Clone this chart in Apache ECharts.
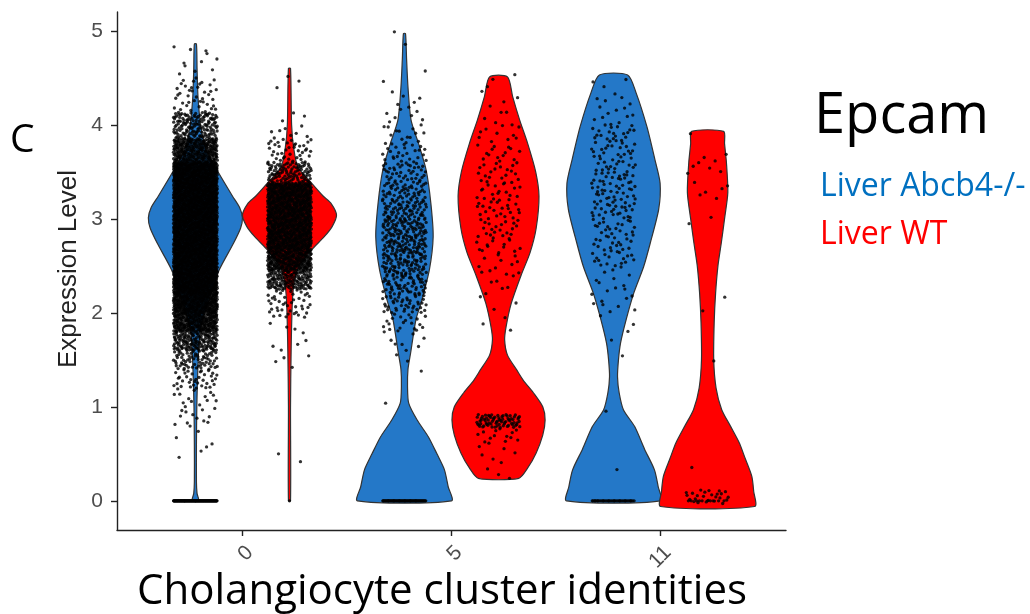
<!DOCTYPE html>
<html>
<head>
<meta charset="utf-8">
<script src="https://cdn.jsdelivr.net/npm/echarts@6/dist/echarts.min.js"></script>
<style>
html,body{margin:0;padding:0;background:#fff;}
#chart{width:1030px;height:614px;}
</style>
</head>
<body>
<div id="chart"></div>
<script>
// ---------- data ----------
const clusters = ['0', '5', '11'];
const groupNames = ['Liver Abcb4-/-', 'Liver WT'];
const groupFill = ['#2478C8', '#FF0000'];
const legendColors = ['#0070C0', '#FF0000'];
const yTickValues = [0, 1, 2, 3, 4, 5];
const xTickValues = [1, 2, 3];

// violin outlines: [expression level, relative width (1 = widest)]
const vln0KO = [[0,0.07],[0.08,0.035],[0.2,0.022],[0.6,0.022],[1.0,0.03],[1.5,0.06],[1.8,0.1],[2.0,0.2],[2.2,0.33],[2.46,0.51],[2.74,0.81],[2.9,0.96],[3.01,1.0],[3.12,0.94],[3.24,0.79],[3.5,0.48],[3.7,0.26],[3.8,0.19],[4.0,0.11],[4.3,0.055],[4.6,0.035],[4.86,0.022]];
const vln0WT = [[0,0.022],[1.0,0.022],[1.6,0.035],[2.1,0.06],[2.32,0.1],[2.49,0.2],[2.67,0.47],[2.81,0.74],[2.92,0.91],[3.04,1.0],[3.16,0.89],[3.24,0.72],[3.38,0.47],[3.55,0.18],[3.75,0.09],[4.0,0.045],[4.6,0.022]];
const vln5KO = [[0,1.0],[0.15,0.93],[0.33,0.85],[0.5,0.69],[0.68,0.51],[0.86,0.27],[1.04,0.09],[1.22,0.065],[1.4,0.075],[1.57,0.13],[1.93,0.245],[2.1,0.35],[2.46,0.53],[2.81,0.61],[3.17,0.56],[3.52,0.46],[3.8,0.3],[4.05,0.14],[4.4,0.075],[4.7,0.045],[4.97,0.022]];
const vln5WT = [[0.24,0.43],[0.35,0.62],[0.51,0.8],[0.7,0.94],[0.86,0.99],[1.0,0.94],[1.15,0.74],[1.28,0.53],[1.39,0.39],[1.55,0.19],[1.71,0.13],[1.85,0.16],[2.1,0.27],[2.4,0.48],[2.64,0.67],[2.9,0.8],[3.24,0.86],[3.5,0.79],[3.8,0.62],[4.05,0.45],[4.3,0.3],[4.51,0.19]];
const vln11KO = [[0,1.0],[0.15,0.95],[0.33,0.87],[0.55,0.66],[0.79,0.45],[0.97,0.21],[1.15,0.12],[1.32,0.085],[1.5,0.105],[1.68,0.15],[1.93,0.27],[2.21,0.43],[2.49,0.64],[2.74,0.78],[3.1,0.96],[3.38,0.99],[3.63,0.88],[3.98,0.71],[4.34,0.48],[4.53,0.3]];
const vln11WT = [[-0.06,1.0],[0.1,0.98],[0.26,0.94],[0.45,0.8],[0.62,0.67],[0.8,0.48],[0.97,0.3],[1.2,0.18],[1.5,0.13],[1.9,0.14],[2.21,0.17],[2.5,0.22],[2.74,0.29],[3.0,0.36],[3.28,0.43],[3.6,0.4],[3.8,0.36],[3.93,0.34]];

// cells (jittered points): [low level, high level, number of cells] counted from the picture
const dots0KO = [[0,0,130],[0.4,0.6,3],[0.6,0.8,4],[0.8,1.0,12],[1.0,1.2,15],[1.2,1.4,35],[1.4,1.6,70],[1.6,1.8,150],[1.8,2.0,280],[2.0,2.2,350],[2.2,3.6,3000],[3.6,3.85,300],[3.85,4.13,150],[4.13,4.48,40],[4.48,4.87,12]];
const dots0WT = [[0,0,1],[0.4,0.55,2],[1.4,1.95,12],[1.95,2.25,45],[2.25,2.45,150],[2.45,2.67,300],[2.67,3.38,1100],[3.38,3.6,110],[3.6,3.85,40],[3.85,4.0,8],[4.0,4.15,3],[4.3,4.4,1],[4.45,4.6,2]];
const dots5KO = [[0,0,70],[1.0,1.4,2],[1.4,1.6,2],[1.6,1.8,8],[1.8,2.0,20],[2.0,2.2,45],[2.2,2.4,60],[2.4,2.6,75],[2.6,2.8,85],[2.8,3.0,85],[3.0,3.2,70],[3.2,3.4,55],[3.4,3.6,40],[3.6,3.8,25],[3.8,4.0,15],[4.0,4.2,8],[4.2,4.4,5],[4.4,4.6,2],[4.6,5.0,2]];
const dots5WT = [[0.22,0.4,3],[0.4,0.6,6],[0.6,0.78,14],[0.78,0.92,75],[1.8,2.0,3],[2.0,2.2,3],[2.2,2.4,6],[2.4,2.6,10],[2.6,2.8,16],[2.8,3.0,20],[3.0,3.2,22],[3.2,3.4,20],[3.4,3.6,18],[3.6,3.8,14],[3.8,4.0,10],[4.0,4.2,6],[4.2,4.4,3],[4.4,4.55,3]];
const dots11KO = [[0,0,40],[0.25,0.35,1],[0.9,1.1,1],[1.5,2.0,5],[2.0,2.5,20],[2.5,3.0,55],[3.0,3.5,75],[3.5,4.0,60],[4.0,4.3,14],[4.3,4.53,4]];
const dots11WT = [[0,0,10],[-0.03,0.12,25],[0.35,0.45,1],[1.45,1.55,1],[1.95,2.05,1],[2.15,2.25,1],[2.85,3.05,2],[3.2,3.4,6],[3.45,3.62,6],[3.65,3.75,2],[3.85,3.93,1]];

// ---------- layout constants ----------
const DODGE = [-0.225, 0.225];
const VIOLIN_HALF = 0.225;
const JITTER = 0.105;

const violins = [[vln0KO, vln5KO, vln11KO], [vln0WT, vln5WT, vln11WT]];
const dotBins = [[dots0KO, dots5KO, dots11KO], [dots0WT, dots5WT, dots11WT]];

// even (low-discrepancy) spread of cells inside their counted bin, in place of random jitter
function spread(k, b) { let f = 1, r = 0; while (k > 0) { f /= b; r += f * (k % b); k = Math.floor(k / b); } return r; }
function cellsOf(bins, xc) {
  const out = []; let k = 1;
  bins.forEach(([lo, hi, n]) => {
    for (let i = 0; i < n; i++, k++) {
      out.push([xc + JITTER * (2 * spread(k, 2) - 1), lo + (hi - lo) * spread(k, 3)]);
    }
  });
  return out;
}

const series = [];
groupNames.forEach((name, g) => {
  series.push({
    type: 'custom', name: name, z: 2, silent: true,
    itemStyle: { color: groupFill[g] },
    data: clusters.map((c, i) => [xTickValues[i], i]),
    renderItem: function (params, api) {
      const prof = violins[g][api.value(1)];
      const xc = api.value(0) + DODGE[g];
      const right = prof.map(p => api.coord([xc + p[1] * VIOLIN_HALF, p[0]]));
      const left = prof.slice().reverse().map(p => api.coord([xc - p[1] * VIOLIN_HALF, p[0]]));
      return {
        type: 'polygon',
        shape: { points: right.concat(left), smooth: 0.25 },
        style: { fill: groupFill[g], stroke: '#333', lineWidth: 1.2 }
      };
    }
  });
});
groupNames.forEach((name, g) => {
  let pts = [];
  clusters.forEach((c, i) => { pts = pts.concat(cellsOf(dotBins[g][i], xTickValues[i] + DODGE[g])); });
  series.push({
    type: 'scatter', name: name, z: 3, silent: true,
    symbol: 'circle', symbolSize: 3.3,
    itemStyle: { color: '#000' },
    data: pts
  });
});

const chart = echarts.init(document.getElementById('chart'), null, { renderer: 'canvas' });
chart.setOption({
  animation: false,
  backgroundColor: '#fff',
  grid: { left: 117, right: 244, top: 12, bottom: 84 },
  xAxis: {
    type: 'value', min: 0.4, max: 3.6,
    splitLine: { show: false },
    axisLine: { onZero: false, lineStyle: { color: '#222', width: 1.4 } },
    axisTick: { customValues: xTickValues, length: 6, lineStyle: { color: '#222', width: 1.4 } },
    axisLabel: {
      customValues: xTickValues, rotate: 45, margin: 12, verticalAlign: 'top',
      formatter: v => clusters[Math.round(v) - 1],
      fontSize: 21, fontFamily: 'Liberation Sans', color: '#4d4d4d'
    }
  },
  yAxis: {
    type: 'value', min: -0.31, max: 5.2,
    splitLine: { show: false },
    axisLine: { show: true, lineStyle: { color: '#222', width: 1.4 } },
    axisTick: { show: true, customValues: yTickValues, length: 6, lineStyle: { color: '#222', width: 1.4 } },
    axisLabel: { customValues: yTickValues, margin: 14, fontSize: 21, fontFamily: 'Liberation Sans', color: '#4d4d4d' }
  },
  legend: {
    orient: 'vertical', left: 810, top: 166,
    icon: 'none', itemWidth: 0, itemHeight: 30, itemGap: 16, selectedMode: false,
    data: groupNames.map((n, i) => ({ name: n, textStyle: { color: legendColors[i] } })),
    textStyle: { fontSize: 32, fontFamily: 'Open Sans', lineHeight: 30 }
  },
  graphic: [
    { type: 'text', x: 10, y: 141, style: { text: 'C', font: '39px "Open Sans"', fill: '#000', textAlign: 'left', textVerticalAlign: 'middle' } },
    { type: 'text', x: 814, y: 117, style: { text: 'Epcam', font: '56px "Open Sans"', fill: '#000', textAlign: 'left', textVerticalAlign: 'middle' } },
    { type: 'text', x: 137, y: 592, style: { text: 'Cholangiocyte cluster identities', font: '42px "Open Sans"', fill: '#000', textAlign: 'left', textVerticalAlign: 'middle' } },
    { type: 'text', x: 69, y: 269, rotation: Math.PI / 2, style: { text: 'Expression Level', font: '26px "Liberation Sans"', fill: '#222', textAlign: 'center', textVerticalAlign: 'middle' } }
  ],
  series: series
});
</script>
</body>
</html>
